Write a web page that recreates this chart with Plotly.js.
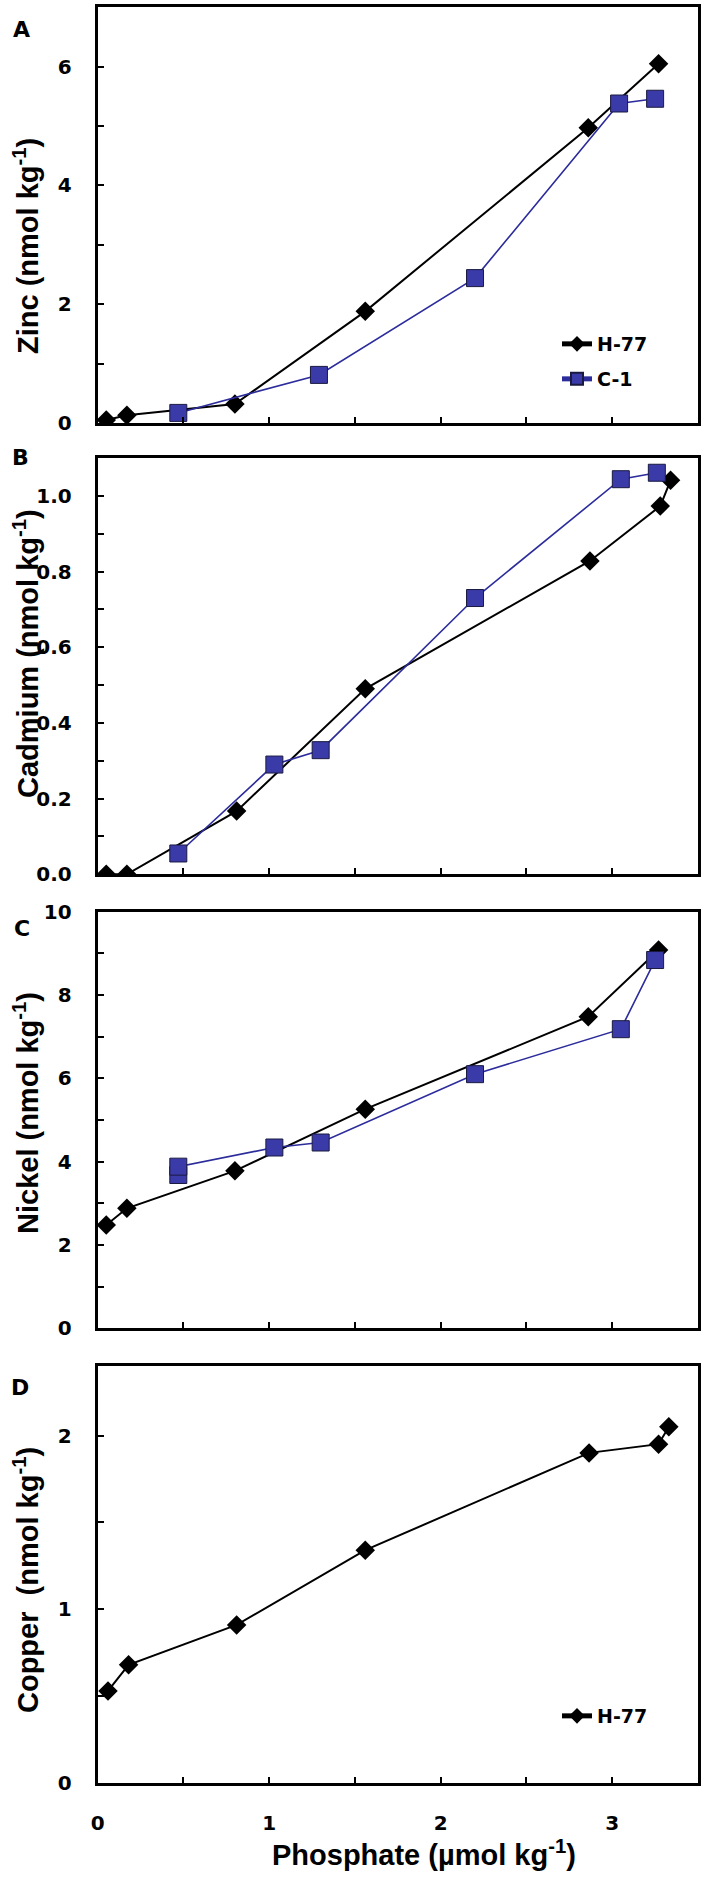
<!DOCTYPE html>
<html>
<head>
<meta charset="utf-8">
<script src="https://cdn.plot.ly/plotly-3.0.1.min.js"></script>
<style>html,body{margin:0;padding:0;background:#fff;}</style>
</head>
<body>
<div id="chart" style="width:708px;height:1884px;"></div>
<script>
// Panel A: Zinc
const zincH77_x = [0.05, 0.17, 0.80, 1.56, 2.86, 3.27];
const zincH77_y = [0.05, 0.13, 0.32, 1.88, 4.97, 6.05];
const zincC1_x = [0.47, 1.29, 2.20, 3.04, 3.25];
const zincC1_y = [0.17, 0.81, 2.44, 5.38, 5.46];
// Panel B: Cadmium
const cdH77_x = [0.05, 0.17, 0.81, 1.56, 2.87, 3.28, 3.34];
const cdH77_y = [0.00, 0.00, 0.167, 0.49, 0.828, 0.973, 1.041];
const cdC1_x = [0.47, 1.03, 1.30, 2.20, 3.05, 3.26];
const cdC1_y = [0.055, 0.29, 0.328, 0.73, 1.044, 1.061];
// Panel C: Nickel
const niH77_x = [0.05, 0.17, 0.80, 1.56, 2.86, 3.27];
const niH77_y = [2.48, 2.88, 3.78, 5.26, 7.48, 9.08];
const niC1_x = [0.47, 0.47, 1.03, 1.30, 2.20, 3.05, 3.25];
const niC1_y = [3.68, 3.88, 4.34, 4.46, 6.10, 7.18, 8.84];
// Panel D: Copper
const cuH77_x = [0.06, 0.18, 0.81, 1.56, 2.865, 3.27, 3.33];
const cuH77_y = [0.53, 0.68, 0.91, 1.34, 1.90, 1.95, 2.05];

const seriesNames = ["H-77", "C-1"];
const panelLetters = ["A", "B", "C", "D"];
const yTitles = ["Zinc (nmol kg<sup>-1</sup>)", "Cadmium (nmol kg<sup>-1</sup>)", "Nickel (nmol kg<sup>-1</sup>)", "Copper  (nmol kg<sup>-1</sup>)"];
const xTitle = "Phosphate (\u00b5mol kg<sup>-1</sup>)";

const W = 708, H = 1884;
const FONT = "Liberation Sans, Arial, Helvetica, sans-serif";
const WIDE = "DejaVu Sans, Verdana, sans-serif";
const BLUE_FILL = "#3a3aa8";
const BLUE_LINE = "#2c2c9c";

function py(pix){ return 1 - pix / H; }
function px(pix){ return pix / W; }

const xDom = [px(97.7), px(698)];
const panels = [
  {top: 7.3, bot: 423, range: [0, 7], dtick: 2, minor: 1, fmt: "d"},
  {top: 458, bot: 874.3, range: [0, 1.1], dtick: 0.2, minor: 0.1, fmt: ".1f"},
  {top: 911.7, bot: 1328.3, range: [0, 10], dtick: 2, minor: 1, fmt: "d"},
  {top: 1366, bot: 1783, range: [0, 2.4], dtick: 1, minor: 0.5, fmt: "d"}
];

function h77(x, y, i, legend, show){
  return {x: x, y: y, xaxis: "x" + (i ? i + 1 : ""), yaxis: "y" + (i ? i + 1 : ""),
    type: "scatter", mode: "lines+markers", name: seriesNames[0],
    line: {color: "#000", width: 2},
    marker: {symbol: "diamond", size: 15, color: "#000", line: {width: 0}},
    showlegend: show, legend: legend};
}
function c1(x, y, i, legend, show){
  return {x: x, y: y, xaxis: "x" + (i ? i + 1 : ""), yaxis: "y" + (i ? i + 1 : ""),
    type: "scatter", mode: "lines+markers", name: seriesNames[1],
    line: {color: BLUE_LINE, width: 1.6},
    marker: {symbol: "square", size: 17, color: BLUE_FILL, line: {width: 1, color: "#1a1a40"}},
    showlegend: show, legend: legend};
}

const data = [
  h77(zincH77_x, zincH77_y, 0, "legend", true),
  c1(zincC1_x, zincC1_y, 0, "legend2", true),
  h77(cdH77_x, cdH77_y, 1, "legend", false),
  c1(cdC1_x, cdC1_y, 1, "legend2", false),
  h77(niH77_x, niH77_y, 2, "legend", false),
  c1(niC1_x, niC1_y, 2, "legend2", false),
  h77(cuH77_x, cuH77_y, 3, "legend3", true)
];

const legFont = {family: WIDE, size: 19, weight: "bold", color: "#000"};
const tickFont = {family: WIDE, size: 20, weight: "bold", color: "#000"};
const layout = {
  width: W, height: H,
  margin: {l: 0, r: 0, t: 0, b: 0},
  paper_bgcolor: "#fff", plot_bgcolor: "#fff",
  font: {family: FONT, color: "#000"},
  annotations: [],
  legend: {x: px(557), y: py(344), xanchor: "left", yanchor: "middle", bgcolor: "rgba(0,0,0,0)",
    font: legFont, itemsizing: "constant"},
  legend2: {x: px(557), y: py(379), xanchor: "left", yanchor: "middle", bgcolor: "rgba(0,0,0,0)",
    font: legFont, itemsizing: "constant"},
  legend3: {x: px(557), y: py(1716), xanchor: "left", yanchor: "middle", bgcolor: "rgba(0,0,0,0)",
    font: legFont, itemsizing: "constant"}
};

panels.forEach((p, i) => {
  const sfx = i ? i + 1 : "";
  layout["xaxis" + sfx] = {
    domain: xDom, range: [0, 3.5], anchor: "y" + sfx,
    showline: true, linecolor: "#000", linewidth: 3, mirror: true,
    ticks: "inside", ticklen: 6, tickwidth: 2, tickcolor: "#000", dtick: 1, tick0: 0,
    minor: {dtick: 0.5, ticks: "inside", ticklen: 6, tickwidth: 2, tickcolor: "#000", showgrid: false},
    showgrid: false, zeroline: false,
    showticklabels: i === 3, ticklabelstandoff: 20,
    tickfont: tickFont
  };
  layout["yaxis" + sfx] = {
    domain: [py(p.bot), py(p.top)], range: p.range, anchor: "x" + sfx,
    showline: true, linecolor: "#000", linewidth: 3, mirror: true,
    ticks: "inside", ticklen: 6, tickwidth: 2, tickcolor: "#000", dtick: p.dtick, tick0: 0,
    minor: {dtick: p.minor, ticks: "inside", ticklen: 6, tickwidth: 2, tickcolor: "#000", showgrid: false},
    tickformat: p.fmt,
    showgrid: false, zeroline: false, ticklabelstandoff: 19,
    tickfont: tickFont
  };
});

const letterPos = [[21, 29], [20, 457], [22, 928], [20, 1387]];
panelLetters.forEach((L, i) => {
  layout.annotations.push({text: L, xref: "paper", yref: "paper", x: px(letterPos[i][0]), y: py(letterPos[i][1]),
    xanchor: "center", yanchor: "middle", showarrow: false,
    font: {family: WIDE, size: 22, weight: "bold", color: "#000"}});
});
const yTitleCenters = [246, 654, 1113, 1580];
yTitles.forEach((t, i) => {
  layout.annotations.push({text: t, xref: "paper", yref: "paper", x: px(26), y: py(yTitleCenters[i]),
    xanchor: "center", yanchor: "middle", showarrow: false, textangle: -90,
    font: {family: FONT, size: 29, weight: "bold", color: "#000"}});
});
layout.annotations.push({text: xTitle, xref: "paper", yref: "paper", x: px(424), y: py(1853),
  xanchor: "center", yanchor: "middle", showarrow: false,
  font: {family: FONT, size: 29, weight: "bold", color: "#000"}});

Plotly.newPlot("chart", data, layout, {displayModeBar: false, staticPlot: true});
</script>
</body>
</html>
